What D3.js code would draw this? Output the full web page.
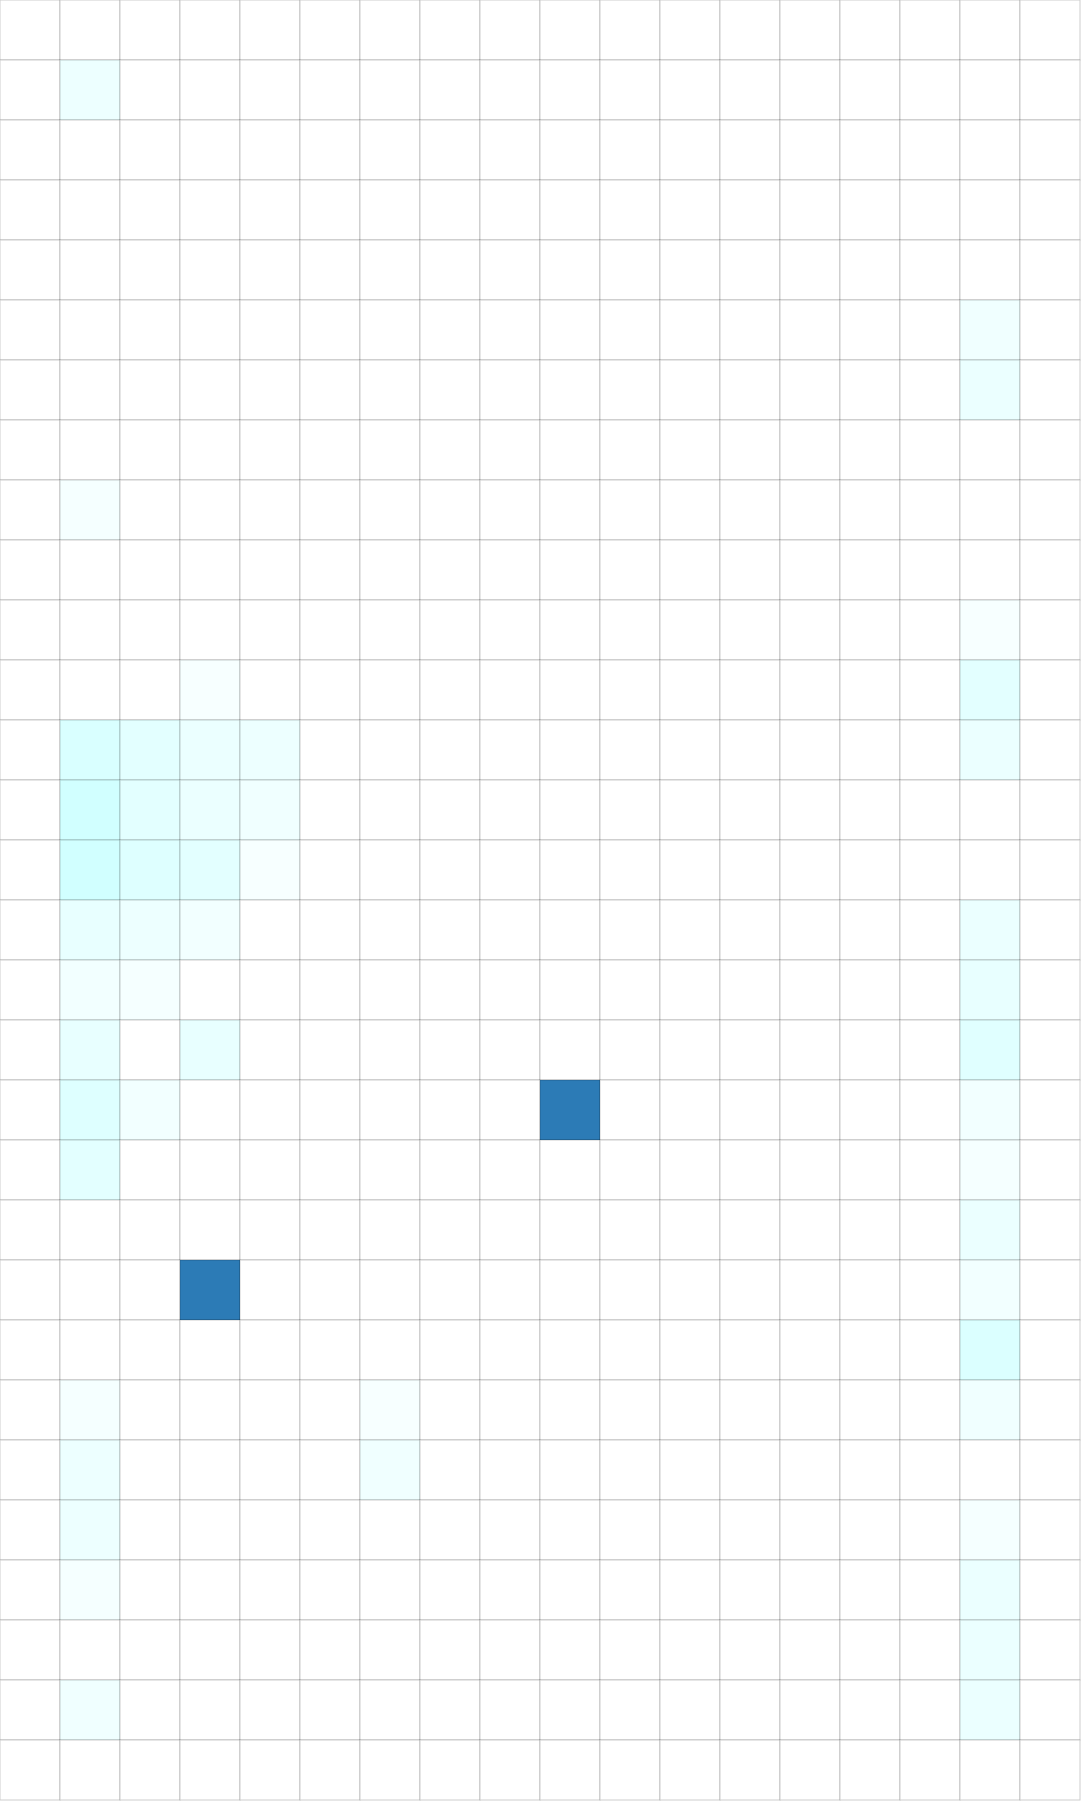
<!DOCTYPE html>
<html>
<head>
<meta charset="utf-8">
<script src="https://cdn.jsdelivr.net/npm/d3@7"></script>
<style>
  html, body { margin: 0; padding: 0; background: #ffffff; }
  svg { display: block; }
</style>
</head>
<body>
<div id="chart"></div>
<script>
// Column and row categories
const columns = d3.range(18).map(i => "C" + (i + 1));
const rows = d3.range(30).map(i => "R" + (i + 1));

// Cell intensities (percent of full cyan), one array per row
const values = [
  [0,0,0,0,0,0,0,0,0,0,0,0,0,0,0,0,0,0],
  [0,7,0,0,0,0,0,0,0,0,0,0,0,0,0,0,0,0],
  [0,0,0,0,0,0,0,0,0,0,0,0,0,0,0,0,0,0],
  [0,0,0,0,0,0,0,0,0,0,0,0,0,0,0,0,0,0],
  [0,0,0,0,0,0,0,0,0,0,0,0,0,0,0,0,0,0],
  [0,0,0,0,0,0,0,0,0,0,0,0,0,0,0,0,6,0],
  [0,0,0,0,0,0,0,0,0,0,0,0,0,0,0,0,8,0],
  [0,0,0,0,0,0,0,0,0,0,0,0,0,0,0,0,0,0],
  [0,4,0,0,0,0,0,0,0,0,0,0,0,0,0,0,0,0],
  [0,0,0,0,0,0,0,0,0,0,0,0,0,0,0,0,0,0],
  [0,0,0,0,0,0,0,0,0,0,0,0,0,0,0,0,3,0],
  [0,0,0,3,0,0,0,0,0,0,0,0,0,0,0,0,11,0],
  [0,15,11,8,7,0,0,0,0,0,0,0,0,0,0,0,8,0],
  [0,18,11,8,6,0,0,0,0,0,0,0,0,0,0,0,0,0],
  [0,18,13,11,3,0,0,0,0,0,0,0,0,0,0,0,0,0],
  [0,9,7,5,0,0,0,0,0,0,0,0,0,0,0,0,8,0],
  [0,5,4,0,0,0,0,0,0,0,0,0,0,0,0,0,9,0],
  [0,9,0,9,0,0,0,0,0,0,0,0,0,0,0,0,12,0],
  [0,13,5,0,0,0,0,0,0,0,0,0,0,0,0,0,5,0],
  [0,11,0,0,0,0,0,0,0,0,0,0,0,0,0,0,4,0],
  [0,0,0,0,0,0,0,0,0,0,0,0,0,0,0,0,8,0],
  [0,0,0,0,0,0,0,0,0,0,0,0,0,0,0,0,5,0],
  [0,0,0,0,0,0,0,0,0,0,0,0,0,0,0,0,14,0],
  [0,4,0,0,0,0,3,0,0,0,0,0,0,0,0,0,6,0],
  [0,7,0,0,0,0,6,0,0,0,0,0,0,0,0,0,0,0],
  [0,7,0,0,0,0,0,0,0,0,0,0,0,0,0,0,4,0],
  [0,4,0,0,0,0,0,0,0,0,0,0,0,0,0,0,8,0],
  [0,0,0,0,0,0,0,0,0,0,0,0,0,0,0,0,8,0],
  [0,6,0,0,0,0,0,0,0,0,0,0,0,0,0,0,8,0],
  [0,0,0,0,0,0,0,0,0,0,0,0,0,0,0,0,0,0]
];

// Highlighted cells: [column index, row index]
const highlightCols = [9, 3];
const highlightRows = [18, 21];

const width = 1086, height = 1810;
const gridW = 1080, gridH = 1800;

const x = d3.scaleBand().domain(columns).range([0, gridW]);
const y = d3.scaleBand().domain(rows).range([0, gridH]);
const color = d3.scaleLinear().domain([0, 100]).range(["#ffffff", "#00ffff"]).interpolate(d3.interpolateRgb);
const highlightColor = "#2c7bb6";

const highlightSet = new Set(highlightCols.map((c, i) => c + "," + highlightRows[i]));

const cells = [];
rows.forEach((r, ri) => {
  columns.forEach((c, ci) => {
    cells.push({ col: c, row: r, ci, ri, v: values[ri][ci], hl: highlightSet.has(ci + "," + ri) });
  });
});

const svg = d3.select("#chart").append("svg")
  .attr("width", width)
  .attr("height", height);

svg.append("g")
  .selectAll("rect")
  .data(cells)
  .join("rect")
  .attr("x", d => x(d.col))
  .attr("y", d => y(d.row))
  .attr("width", x.bandwidth())
  .attr("height", y.bandwidth())
  .attr("fill", d => d.hl ? highlightColor : color(d.v))
  .attr("stroke", "#000")
  .attr("stroke-opacity", 0.2)
  .attr("stroke-width", 1);
</script>
</body>
</html>
